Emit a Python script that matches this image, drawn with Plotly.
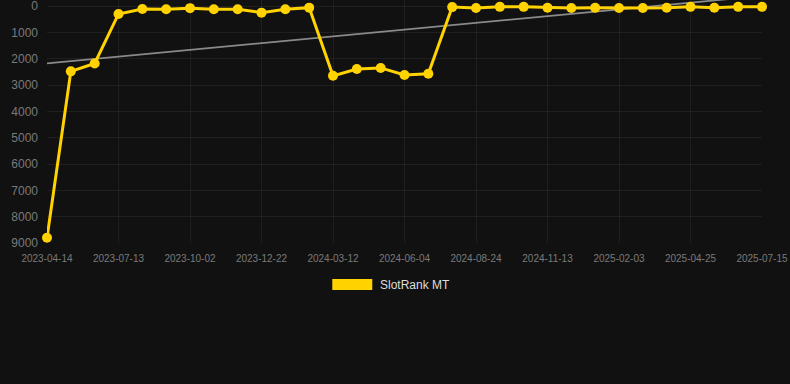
import plotly.graph_objects as go

dates = ["2023-04-14", "2023-05-14", "2023-06-13", "2023-07-13", "2023-08-09", "2023-09-05",
         "2023-10-02", "2023-10-29", "2023-11-25", "2023-12-22", "2024-01-18", "2024-02-14",
         "2024-03-12", "2024-04-09", "2024-05-07", "2024-06-04", "2024-07-01", "2024-07-28",
         "2024-08-24", "2024-09-20", "2024-10-17", "2024-11-13", "2024-12-10", "2025-01-07",
         "2025-02-03", "2025-03-02", "2025-03-29", "2025-04-25", "2025-05-22", "2025-06-18",
         "2025-07-15"]
rank = [8800, 2480, 2180, 300, 110, 120, 80, 120, 120, 250, 120, 60,
        2650, 2390, 2350, 2620, 2570, 40, 75, 30, 30, 65, 75, 65, 75, 75,
        65, 30, 65, 30, 30]
trend_start = 2180
trend_end = -385
tick_labels = dates[::3]
series_name = "SlotRank MT"

fig = go.Figure()
fig.add_trace(go.Scatter(
    x=[dates[0], dates[-1]], y=[trend_start, trend_end], mode="lines",
    line=dict(color="#8a8a8a", width=1.8), showlegend=False, hoverinfo="skip"))
fig.add_trace(go.Scatter(
    x=dates, y=rank, mode="lines+markers", name=series_name,
    line=dict(color="#ffd200", width=3),
    marker=dict(color="#ffd200", size=10), showlegend=False, cliponaxis=False))

L, R, T, B = 46.5, 28, 0, 141
W, H = 790, 384
pw, ph = W - L - R, H - T - B

def px(x):
    return (x - L) / pw

def py(y):
    return (H - B - y) / ph

fig.add_shape(type="rect", xref="paper", yref="paper",
              x0=px(332), x1=px(372), y0=py(290), y1=py(279),
              fillcolor="#ffd200", line=dict(width=0))
fig.add_annotation(xref="paper", yref="paper", x=px(378), y=py(285),
                   text=series_name, showarrow=False, xanchor="left", yanchor="middle",
                   font=dict(color="#dddddd", size=12, family="Liberation Sans, Arial"))

grid = "rgba(255,255,255,0.06)"
fig.update_layout(
    width=W, height=H, margin=dict(l=L, r=R, t=T, b=B, pad=0),
    paper_bgcolor="#111111", plot_bgcolor="#111111",
    font=dict(family="Liberation Sans, Arial", color="#7a7a7a"),
    xaxis=dict(type="category", categoryorder="array", categoryarray=dates,
               tickvals=tick_labels, ticktext=tick_labels, range=[0, len(dates) - 1],
               showgrid=True, gridcolor=grid, gridwidth=1, zeroline=False,
               tickfont=dict(size=10, color="#7a7a7a"), ticks="outside", ticklen=6,
               tickcolor="rgba(0,0,0,0)", showline=False, ticklabeloverflow="allow"),
    yaxis=dict(range=[9000, -230], tickvals=list(range(0, 9001, 1000)),
               showgrid=True, gridcolor=grid, gridwidth=1, zeroline=False,
               tickfont=dict(size=12, color="#7a7a7a"), ticks="", ticklen=0,
               ticklabelstandoff=8, ticklabeloverflow="allow"),
    showlegend=False,
)
fig.write_html("out.html", config={"displayModeBar": False, "staticPlot": True})
with open("out.html", encoding="utf-8") as f:
    html = f.read()
html = html.replace("<head>", '<head><style>html,body{margin:0;padding:0;background:#111111;overflow:hidden}</style>', 1)
with open("out.html", "w", encoding="utf-8") as f:
    f.write(html)
